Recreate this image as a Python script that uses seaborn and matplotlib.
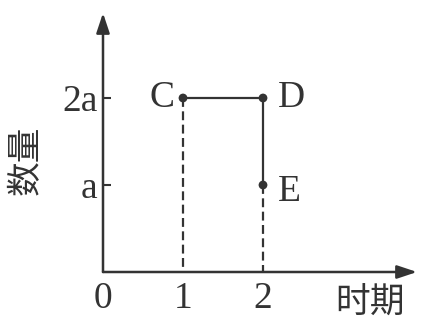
import numpy as np
import pandas as pd
import matplotlib
matplotlib.use("Agg")
import matplotlib.pyplot as plt
import seaborn as sns

# datos del esquema (cantidad en unidades de a)
point_names = ["C", "D", "E"]
point_period = [1, 2, 2]
point_amount = [2, 2, 1]

x_ticks = [0, 1, 2]
x_tick_labels = ["0", "1", "2"]
y_ticks = [1, 2]
y_tick_labels = ["a", "2a"]

x_label = "时期"
y_label = "数量"

INK = "#333333"
LATIN = ["Liberation Serif", "DejaVu Serif"]
CJK = ["Noto Sans CJK SC", "DejaVu Sans"]
FS = 27

sns.set_style("white")
plt.rcParams["font.family"] = LATIN

df_pts = pd.DataFrame({"periodo": point_period, "cantidad": point_amount, "nombre": point_names})

# lineas punteadas desde C y E hasta el eje x
drop_src = [0, 2]
df_drop = pd.DataFrame({
    "periodo": [point_period[i] for i in drop_src for _ in range(2)],
    "cantidad": [v for i in drop_src for v in (point_amount[i], 0)],
    "linea": [i for i in drop_src for _ in range(2)],
})

W, H = 422, 323
fig = plt.figure(figsize=(W / 100, H / 100), dpi=100)
ox, oy = 103, 272
ax = fig.add_axes([ox / W, (H - oy) / H, (417 - ox) / W, (oy - 13) / H])
ax.set_xlim(0, (417 - ox) / 80)
ax.set_ylim(0, (oy - 13) / 87)

sns.lineplot(data=df_drop, x="periodo", y="cantidad", units="linea", estimator=None,
             sort=False, color=INK, lw=1.6, linestyle=(0, (4, 2)), ax=ax)
sns.lineplot(data=df_pts, x="periodo", y="cantidad", estimator=None, sort=False,
             color=INK, lw=1.6, ax=ax)
sns.scatterplot(data=df_pts, x="periodo", y="cantidad", color=INK, s=40,
                edgecolor="none", zorder=5, ax=ax)

offsets = {"C": (-6, 0, "right"), "D": (11, 0, "left"), "E": (11, -5, "left")}
for name, px, py in zip(point_names, point_period, point_amount):
    dx, dy, ha = offsets[name]
    ax.annotate(name, (px, py), xytext=(dx, dy), textcoords="offset points",
                ha=ha, va="center", fontsize=FS, color=INK)

for s in ax.spines.values():
    s.set_visible(False)
arrow = dict(arrowstyle="-|>,head_length=1.2,head_width=0.4", color=INK, lw=1.8,
             shrinkA=0, shrinkB=0, mutation_scale=10)
ax.annotate("", xy=(1, 0), xytext=(0, 0), xycoords="axes fraction", arrowprops=arrow)
ax.annotate("", xy=(0, 1), xytext=(0, 0), xycoords="axes fraction", arrowprops=arrow)

ax.set_xticks(x_ticks, x_tick_labels)
ax.set_yticks(y_ticks, y_tick_labels)
ax.tick_params(axis="x", length=0, pad=7, labelsize=FS, labelcolor=INK)
ax.tick_params(axis="y", direction="in", length=6, width=1.5, color=INK, pad=4,
               labelsize=FS, labelcolor=INK, left=True)
ax.set_xlabel("")
ax.set_ylabel("")
ax.patch.set_alpha(0)

fig.text(370 / W, 1 - 303 / H, x_label, family=CJK, fontsize=25, color=INK,
         ha="center", va="center")
fig.text(26 / W, 1 - 160 / H, y_label, family=CJK, fontsize=25, color=INK,
         ha="center", va="center", rotation=90)

fig.savefig("out.png", dpi=100)
